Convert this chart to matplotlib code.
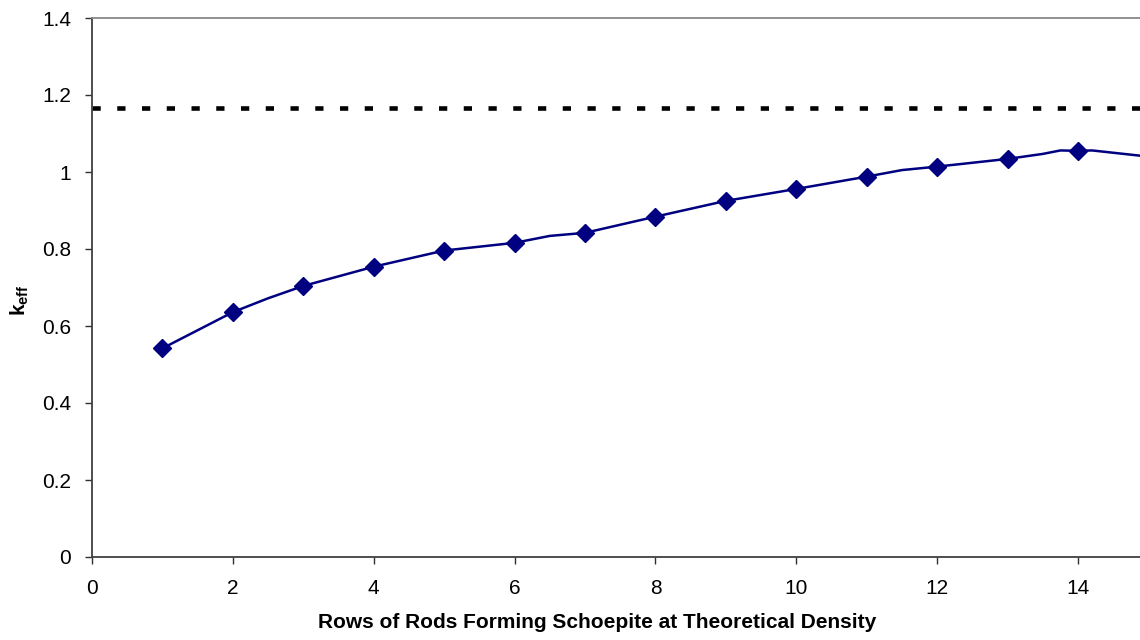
import matplotlib
matplotlib.use("Agg")
import matplotlib.pyplot as plt

plt.rcParams['font.family'] = ['Liberation Sans', 'DejaVu Sans']
plt.rcParams['mathtext.default'] = 'regular'

# marked calculation points (rows of rods vs k_eff)
rows = [1, 2, 3, 4, 5, 6, 7, 8, 9, 10, 11, 12, 13, 14]
keff = [0.542, 0.636, 0.704, 0.754, 0.796, 0.816, 0.842, 0.884, 0.925,
        0.956, 0.988, 1.014, 1.034, 1.055]

# connecting curve (includes in-between points)
curve_x = [1, 2, 2.5, 3, 4, 5, 6, 6.5, 7, 8, 9, 10, 11, 11.5, 12, 13,
           13.5, 13.75, 14, 14.2, 15]
curve_y = [0.542, 0.636, 0.672, 0.704, 0.754, 0.796, 0.816, 0.834, 0.842,
           0.884, 0.925, 0.956, 0.988, 1.005, 1.014, 1.034, 1.047, 1.056,
           1.055, 1.056, 1.040]

limit_keff = 1.165

yticks = [0, 0.2, 0.4, 0.6, 0.8, 1.0, 1.2, 1.4]
ytick_labels = ['0', '0.2', '0.4', '0.6', '0.8', '1', '1.2', '1.4']
xticks = [0, 2, 4, 6, 8, 10, 12, 14]

fig = plt.figure(figsize=(11.4, 6.4), dpi=100)
ax = fig.add_axes([92 / 1140, 1 - 557 / 640, 1 - 92 / 1140, (557 - 18) / 640])

ax.axhline(limit_keff, color='black', linewidth=3.3, linestyle=(0, (1.8, 3.6)),
           dash_capstyle='butt')
ax.plot(curve_x, curve_y, color='#000080', linewidth=1.8)
ax.plot(rows, keff, linestyle='none', marker='D', markersize=9,
        color='#000080')

ax.set_xlim(0, 14.88)
ax.set_ylim(0, 1.4)
ax.set_xticks(xticks)
ax.set_xticklabels([str(v) for v in xticks])
ax.set_yticks(yticks)
ax.set_yticklabels(ytick_labels)
ax.tick_params(axis='both', labelsize=15, length=5, width=1, color='#303030',
               direction='out')
ax.tick_params(axis='x', pad=11)
ax.tick_params(axis='y', pad=10)

ax.spines['right'].set_visible(False)
ax.spines['top'].set_color('#888888')
ax.spines['top'].set_linewidth(1.3)
for s in ('left', 'bottom'):
    ax.spines[s].set_color('#404040')
    ax.spines[s].set_linewidth(1.3)

fig.text(597 / 1140, 1 - 622 / 640,
         'Rows of Rods Forming Schoepite at Theoretical Density',
         ha='center', va='center', fontsize=15, fontweight='bold')
fig.text(20 / 1140, 1 - 300 / 640, r'$k_{eff}$', rotation=90,
         ha='center', va='center', fontsize=15, fontweight='bold')

fig.savefig('out.png', dpi=100)
